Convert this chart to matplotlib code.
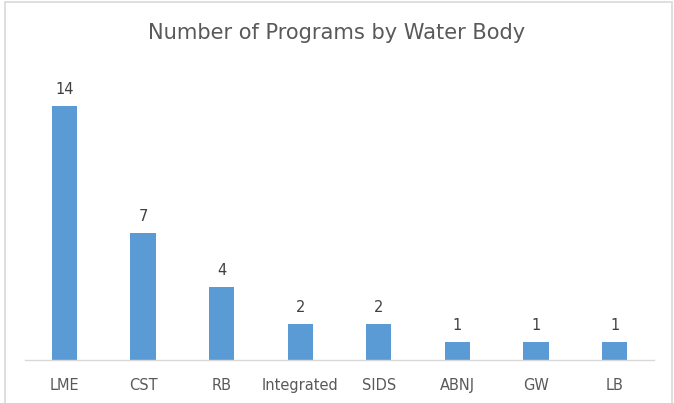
import matplotlib
matplotlib.use("Agg")
import matplotlib.pyplot as plt
from matplotlib.patches import Rectangle

categories = ["LME", "CST", "RB", "Integrated", "SIDS", "ABNJ", "GW", "LB"]
values = [14, 7, 4, 2, 2, 1, 1, 1]
title = "Number of Programs by Water Body"

W, H = 674, 403
fig = plt.figure(figsize=(W / 100, H / 100), dpi=100)
fig.patch.set_facecolor("white")

# chart border (bottom edge falls outside the image)
fig.patches.append(Rectangle((5 / W, -0.03), (672 - 5) / W, 1 - 2 / H + 0.03,
                             transform=fig.transFigure, fill=False,
                             edgecolor="#d9d9d9", linewidth=1.2))

ax = fig.add_axes([25 / W, (H - 360) / H, 629 / W, 280 / H])
x = range(len(categories))
bars = ax.bar(x, values, width=0.32, color="#5B9BD5")
ax.set_xlim(-0.5, len(categories) - 0.5)
ax.set_ylim(0, 280 / (254 / 14))
for s in ["top", "right", "left"]:
    ax.spines[s].set_visible(False)
ax.spines["bottom"].set_color("#d9d9d9")
ax.spines["bottom"].set_linewidth(1)
ax.set_yticks([])
ax.set_xticks(list(x))
ax.set_xticklabels(categories, fontsize=10.5, color="#595959")
ax.tick_params(axis="x", length=0, pad=13)

for xi, v in zip(x, values):
    ax.annotate(str(v), (xi, v), xytext=(0, 6.5), textcoords="offset points",
                ha="center", va="bottom", fontsize=10.5, color="#404040")

fig.text(0.5, (H - 33) / H, title, ha="center", va="center",
         fontsize=15.1, color="#595959")

fig.savefig("out.png", dpi=100)
